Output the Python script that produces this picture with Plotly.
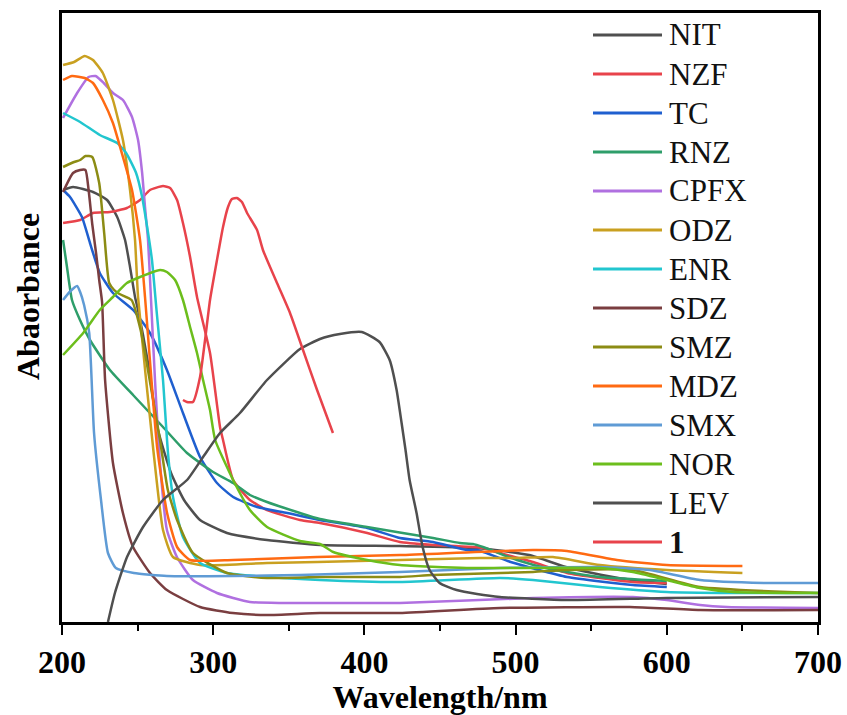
import plotly.graph_objects as go

# UV-Vis absorption spectra (wavelength in nm, absorbance in a.u.)
nit_wl = [200.7, 207.3, 220.5, 229.8, 236.5, 241.7, 245, 248.3, 250.3, 256.9, 263.5, 272.1, 280.7, 291.3, 309.1, 335.6, 370.6, 423.5, 474.5, 509, 535.4, 568, 600]
nit_abs = [2.16, 2.175, 2.15, 2.11, 2.025, 1.91, 1.775, 1.625, 1.56, 1.295, 0.96, 0.745, 0.61, 0.51, 0.445, 0.41, 0.385, 0.38, 0.37, 0.335, 0.27, 0.22, 0.19]

nzf_wl = [200.7, 212, 220.5, 231.7, 242.9, 251.6, 258.2, 266.8, 271.5, 276.1, 280, 284.7, 289.3, 297.9, 304.5, 306.5, 313.2, 324.3, 335.6, 357.4, 370.6, 401.9, 423.5, 445.3, 478.5, 489.7, 511.5, 534, 577.6, 600]
nzf_abs = [1.995, 2.01, 2.045, 2.05, 2.07, 2.11, 2.16, 2.18, 2.17, 2.11, 1.995, 1.825, 1.625, 1.345, 0.975, 0.91, 0.71, 0.61, 0.56, 0.51, 0.495, 0.445, 0.40, 0.385, 0.37, 0.345, 0.30, 0.245, 0.20, 0.195]

tc_wl = [200.7, 205.3, 213.2, 218.5, 225, 233.7, 247, 258.2, 269.4, 280, 291.3, 302.5, 313.2, 329, 348.9, 370.6, 401.9, 423.5, 445.3, 467.4, 474.5, 496.7, 534, 577.6, 600]
tc_abs = [2.16, 2.125, 2.025, 1.895, 1.745, 1.645, 1.56, 1.445, 1.26, 1.045, 0.825, 0.695, 0.625, 0.575, 0.545, 0.51, 0.47, 0.42, 0.40, 0.36, 0.36, 0.30, 0.225, 0.185, 0.175]

rnz_wl = [200.7, 203.3, 206.6, 211.9, 218.5, 231.7, 247, 266.8, 282.7, 299.9, 313.1, 324.3, 335.6, 357.4, 370.6, 401.7, 445.4, 463.2, 471.8, 478.4, 500.9, 522.8, 555.8, 600]
rnz_abs = [1.91, 1.775, 1.61, 1.51, 1.41, 1.26, 1.135, 0.975, 0.845, 0.75, 0.695, 0.635, 0.60, 0.545, 0.515, 0.475, 0.42, 0.395, 0.39, 0.375, 0.31, 0.265, 0.225, 0.205]

cpfx_wl = [200.7, 210, 217.6, 222.2, 227.6, 233.7, 240.3, 246.3, 250.3, 253, 254.9, 256.9, 258.5, 261.5, 264.8, 269.4, 276, 286.6, 302.5, 324.3, 346.2, 370.6, 423.5, 511.5, 577.6, 600, 622, 639.8, 700]
cpfx_abs = [2.52, 2.645, 2.725, 2.73, 2.695, 2.645, 2.61, 2.525, 2.41, 2.245, 2.075, 1.91, 1.67, 1.21, 0.795, 0.46, 0.325, 0.21, 0.145, 0.10, 0.095, 0.095, 0.095, 0.12, 0.125, 0.11, 0.085, 0.075, 0.07]

odz_wl = [200.7, 208, 215, 220.5, 227, 233.7, 240.3, 245, 248.3, 250.3, 260.2, 266.8, 273.4, 291.3, 335.6, 368.7, 423.5, 476.5, 500, 524.7, 555.8, 600, 650]
odz_abs = [2.785, 2.8, 2.83, 2.81, 2.745, 2.61, 2.41, 2.16, 1.91, 1.625, 0.875, 0.46, 0.325, 0.285, 0.295, 0.30, 0.31, 0.32, 0.32, 0.325, 0.285, 0.26, 0.245]

enr_wl = [200.7, 212, 225, 236.5, 242.4, 249, 253, 256.3, 259.5, 262.5, 266.8, 270.1, 273.4, 280, 291.3, 309.1, 335.6, 370.6, 423.5, 489.7, 511.5, 555.8, 600, 643.8, 700]
enr_abs = [2.545, 2.5, 2.435, 2.395, 2.345, 2.245, 2.125, 1.975, 1.81, 1.56, 1.21, 0.845, 0.625, 0.425, 0.295, 0.245, 0.225, 0.21, 0.20, 0.22, 0.21, 0.175, 0.15, 0.145, 0.145]

sdz_wl = [200.7, 207.3, 212, 215.5, 217.6, 220, 222.6, 224.6, 226.5, 228.5, 233.7, 240.3, 247, 258.2, 269.4, 291.3, 313, 335.6, 370.6, 423.5, 489.7, 575.6, 622, 700]
sdz_abs = [2.15, 2.245, 2.26, 2.26, 2.16, 1.99, 1.84, 1.71, 1.6, 1.21, 0.795, 0.545, 0.375, 0.245, 0.16, 0.075, 0.045, 0.035, 0.045, 0.045, 0.07, 0.075, 0.06, 0.06]

smz_wl = [200.7, 208, 212, 215.5, 220, 224.6, 227.9, 231.2, 234.5, 238, 246, 252, 258, 264.8, 270, 276.1, 286.6, 309.1, 335.6, 370.6, 423.5, 445, 511.5, 534, 577.6, 622, 700]
smz_abs = [2.275, 2.3, 2.31, 2.33, 2.325, 2.195, 1.945, 1.695, 1.66, 1.64, 1.61, 1.46, 1.21, 0.91, 0.66, 0.51, 0.345, 0.245, 0.22, 0.225, 0.225, 0.235, 0.25, 0.26, 0.26, 0.175, 0.145]

mdz_wl = [200.7, 206.6, 215, 220.5, 227, 233.7, 240.3, 246.3, 251.6, 254.9, 262.9, 269.5, 276.1, 284.7, 313.2, 368.7, 423.5, 511.5, 534, 567, 600, 650]
mdz_abs = [2.71, 2.73, 2.72, 2.695, 2.61, 2.495, 2.325, 2.16, 1.91, 1.625, 0.875, 0.545, 0.375, 0.31, 0.31, 0.325, 0.335, 0.36, 0.355, 0.31, 0.285, 0.28]

smx_wl = [200.7, 205, 210, 212, 214.6, 218, 221.2, 225.8, 230.4, 235.6, 247.5, 269.4, 313.2, 357.4, 423.5, 489.7, 555.8, 588.9, 622, 666, 700]
smx_abs = [1.61, 1.65, 1.68, 1.65, 1.585, 1.445, 0.945, 0.61, 0.345, 0.27, 0.245, 0.23, 0.23, 0.235, 0.25, 0.27, 0.275, 0.26, 0.21, 0.195, 0.195]

nor_wl = [200.7, 214, 225, 233.7, 242.9, 251.6, 264.8, 269.4, 274.8, 280, 284.7, 289.3, 293.3, 297.9, 301.3, 313.2, 324.3, 335.6, 357.4, 370.6, 379.4, 401.9, 423.5, 467.6, 555.8, 577.6, 600, 622, 643.8, 700]
nor_abs = [1.335, 1.445, 1.56, 1.625, 1.695, 1.725, 1.76, 1.75, 1.71, 1.61, 1.475, 1.345, 1.21, 1.06, 0.91, 0.71, 0.56, 0.475, 0.405, 0.39, 0.35, 0.31, 0.285, 0.27, 0.27, 0.25, 0.21, 0.17, 0.15, 0.145]

lev_wl = [230.4, 235, 243, 253.6, 266.8, 282.7, 293.3, 304.5, 317.7, 335.6, 357.4, 370.6, 383.8, 398.3, 410, 416.7, 421.3, 424.6, 427.2, 429.9, 434.5, 438.5, 443.1, 449.7, 461, 474.5, 489.7, 534, 600, 700]
lev_abs = [0.0, 0.145, 0.325, 0.475, 0.61, 0.71, 0.825, 0.945, 1.045, 1.21, 1.365, 1.415, 1.44, 1.45, 1.40, 1.31, 1.16, 0.995, 0.86, 0.71, 0.545, 0.375, 0.26, 0.195, 0.16, 0.14, 0.125, 0.11, 0.12, 0.125]

c1_wl = [280, 282.6, 286.6, 291.3, 294.6, 297.9, 302.5, 306.5, 309.8, 312.4, 315.7, 319, 322.4, 329, 332.9, 342.2, 350.8, 359.4, 368.7, 379.2]
c1_abs = [1.11, 1.10, 1.10, 1.225, 1.41, 1.61, 1.81, 1.975, 2.075, 2.115, 2.12, 2.10, 2.045, 1.96, 1.86, 1.695, 1.545, 1.36, 1.16, 0.945]

names = ["NIT", "NZF", "TC", "RNZ", "CPFX", "ODZ", "ENR", "SDZ", "SMZ", "MDZ", "SMX", "NOR", "LEV", "<b>1</b>"]
colors = ["#4f4f4f", "#e8434b", "#1f5fcf", "#2e9e6a", "#b070e0", "#c9a020", "#22c6cf",
          "#7a3e40", "#8c8c14", "#ff6a12", "#5f9bd5", "#6cbe1c", "#4f4f4f", "#e8434b"]
wls = [nit_wl, nzf_wl, tc_wl, rnz_wl, cpfx_wl, odz_wl, enr_wl, sdz_wl, smz_wl, mdz_wl, smx_wl, nor_wl, lev_wl, c1_wl]
absorb = [nit_abs, nzf_abs, tc_abs, rnz_abs, cpfx_abs, odz_abs, enr_abs, sdz_abs, smz_abs, mdz_abs, smx_abs, nor_abs, lev_abs, c1_abs]

x_ticks = [200, 300, 400, 500, 600, 700]

fig = go.Figure()
for name, col, x, y in zip(names, colors, wls, absorb):
    fig.add_trace(go.Scatter(x=x, y=y, mode="lines", name=name,
                             line=dict(color=col, width=2.5, shape="spline", smoothing=0.5),
                             showlegend=False))

# Legend drawn as long line samples with labels, top-right inside the frame
W, H = 847, 715
L, R, T, B = 62, 818, 13, 622
shapes = []
annotations = []
for i, (name, col) in enumerate(zip(names, colors)):
    py = 35 + i * 39.0
    yp = (B - py) / (B - T)
    shapes.append(dict(type="line", xref="paper", yref="paper",
                       x0=(593 - L) / (R - L), x1=(662 - L) / (R - L), y0=yp, y1=yp,
                       line=dict(color=col, width=3)))
    annotations.append(dict(text=name, xref="paper", yref="paper",
                            x=(667 - L) / (R - L), y=yp, xanchor="left", yanchor="middle",
                            showarrow=False,
                            font=dict(family="Liberation Serif", size=31, color="#111")))

annotations.append(dict(text="<b>Abaorbance</b>", xref="paper", yref="paper",
                        x=(28 - L) / (R - L), y=(B - 297) / (B - T), textangle=-90,
                        xanchor="center", yanchor="middle", showarrow=False,
                        font=dict(family="Liberation Serif", size=32, color="#000")))

fig.update_layout(
    width=W, height=H,
    margin=dict(l=L, r=W - R, t=T, b=H - B, autoexpand=False),
    plot_bgcolor="white", paper_bgcolor="white",
    shapes=shapes, annotations=annotations,
    xaxis=dict(range=[200, 700], tickvals=x_ticks, ticks="outside", ticklen=10, tickwidth=2,
               tickcolor="black", showline=True, linecolor="black", linewidth=3, mirror=True,
               showgrid=False, zeroline=False, automargin=False,
               minor=dict(ticks="outside", ticklen=6, tickwidth=2, tickcolor="black", dtick=50),
               tickfont=dict(family="Liberation Serif", size=32, color="black", weight="bold"),
               title=dict(text="<b>Wavelength/nm</b>", standoff=6,
                          font=dict(family="Liberation Serif", size=32, color="black"))),
    yaxis=dict(range=[0, 3.045], showticklabels=False, ticks="", showline=True, automargin=False,
               linecolor="black", linewidth=3, mirror=True, showgrid=False, zeroline=False),
)

fig.write_html("out.html")
